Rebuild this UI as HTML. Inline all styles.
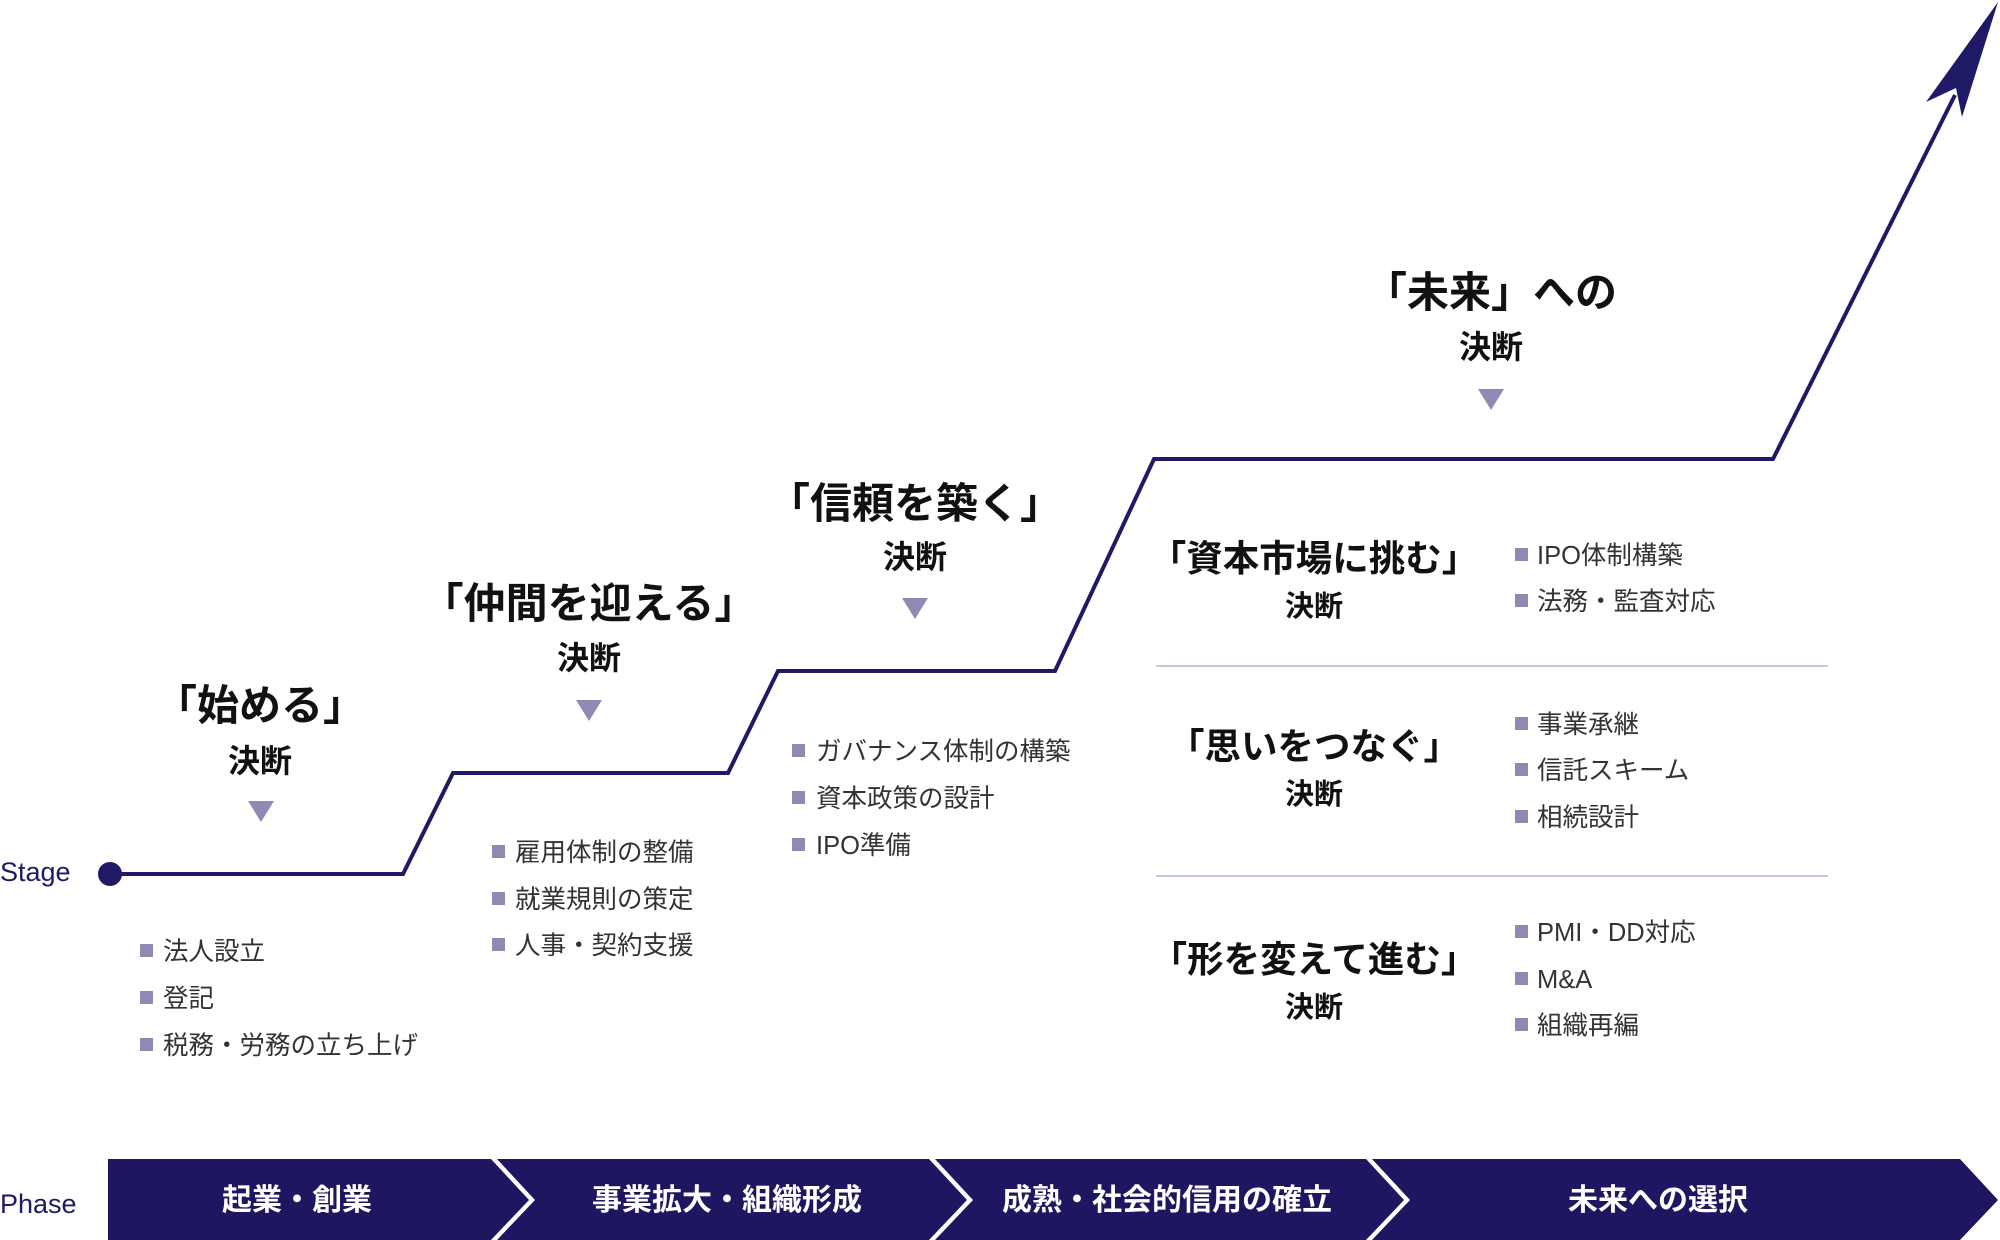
<!DOCTYPE html>
<html><head><meta charset="utf-8"><style>
html,body{margin:0;padding:0;background:#fff;}
svg{display:block;font-family:"Liberation Sans","Noto Sans CJK JP",sans-serif;}
.t{font-size:42px;font-weight:700;fill:#111;text-anchor:middle;}
.k{font-size:32px;font-weight:700;fill:#111;text-anchor:middle;}
.i{font-size:25.5px;fill:#333;}
.p{font-size:30px;font-weight:700;fill:#fff;text-anchor:middle;}
.l{font-size:27px;fill:#1e1a66;font-weight:500;}
</style></head><body>
<svg width="2000" height="1240" viewBox="0 0 2000 1240" xmlns="http://www.w3.org/2000/svg">
<polyline points="110,874 403,874 453,773 728,773 778,671 1055,671 1154,459 1773,459 1955,95" fill="none" stroke="#1e1a66" stroke-width="4"/>
<polygon points="1998,2 1926,102 1956,88 1962,117" fill="#1e1a66"/>
<circle cx="110" cy="874" r="12" fill="#1e1a66"/>
<text class="l" x="0" y="881">Stage</text>
<text class="l" x="0" y="1213">Phase</text>
<g fill="#8e8ab3">
<polygon points="248,801 274,801 261,822"/>
<polygon points="576,700 602,700 589,721"/>
<polygon points="902,598 928,598 915,619"/>
<polygon points="1478,389 1504,389 1491,410"/>
</g>
<text class="t" x="260" y="720">「始める」</text><text class="k" x="260" y="772">決断</text>
<text class="t" x="589" y="618">「仲間を迎える」</text><text class="k" x="589" y="669">決断</text>
<text class="t" x="915" y="518">「信頼を築く」</text><text class="k" x="915" y="568">決断</text>
<text class="t" x="1491" y="307">「未来」への</text><text class="k" x="1491" y="358">決断</text>
<text class="t" x="1314" y="571" style="font-size:36.5px">「資本市場に挑む」</text><text class="k" x="1314" y="616" style="font-size:29px">決断</text>
<text class="t" x="1314" y="759" style="font-size:36.5px">「思いをつなぐ」</text><text class="k" x="1314" y="804" style="font-size:29px">決断</text>
<text class="t" x="1314" y="972" style="font-size:36.5px">「形を変えて進む」</text><text class="k" x="1314" y="1017" style="font-size:29px">決断</text>
<g fill="#8e8ab3">
<rect x="140" y="944" width="13" height="13"/><rect x="140" y="991" width="13" height="13"/><rect x="140" y="1038" width="13" height="13"/>
<rect x="492" y="845" width="13" height="13"/><rect x="492" y="892" width="13" height="13"/><rect x="492" y="938" width="13" height="13"/>
<rect x="792" y="744" width="13" height="13"/><rect x="792" y="791" width="13" height="13"/><rect x="792" y="838" width="13" height="13"/>
<rect x="1515" y="548" width="13" height="13"/><rect x="1515" y="594" width="13" height="13"/>
<rect x="1515" y="717" width="13" height="13"/><rect x="1515" y="763" width="13" height="13"/><rect x="1515" y="810" width="13" height="13"/>
<rect x="1515" y="925" width="13" height="13"/><rect x="1515" y="972" width="13" height="13"/><rect x="1515" y="1018" width="13" height="13"/>
</g>
<g>
<text class="i" x="163" y="960">法人設立</text><text class="i" x="163" y="1007">登記</text><text class="i" x="163" y="1054">税務・労務の立ち上げ</text>
<text class="i" x="515" y="861">雇用体制の整備</text><text class="i" x="515" y="908">就業規則の策定</text><text class="i" x="515" y="954">人事・契約支援</text>
<text class="i" x="816" y="760">ガバナンス体制の構築</text><text class="i" x="816" y="807">資本政策の設計</text><text class="i" x="816" y="854">IPO準備</text>
<text class="i" x="1537" y="564">IPO体制構築</text><text class="i" x="1537" y="610">法務・監査対応</text>
<text class="i" x="1537" y="733">事業承継</text><text class="i" x="1537" y="779">信託スキーム</text><text class="i" x="1537" y="826">相続設計</text>
<text class="i" x="1537" y="941">PMI・DD対応</text><text class="i" x="1537" y="988">M&amp;A</text><text class="i" x="1537" y="1034">組織再編</text>
</g>
<line x1="1156" y1="666" x2="1828" y2="666" stroke="#c8c6dc" stroke-width="2"/>
<line x1="1156" y1="876" x2="1828" y2="876" stroke="#c8c6dc" stroke-width="2"/>
<g fill="#1e1660">
<polygon points="108,1159 491,1159 529,1200 491,1240 108,1240"/>
<polygon points="497,1159 929,1159 967,1200 929,1240 497,1240 535,1200"/>
<polygon points="935,1159 1366,1159 1404,1200 1366,1240 935,1240 973,1200"/>
<polygon points="1372,1159 1960,1159 1998,1200 1960,1240 1372,1240 1410,1200"/>
</g>
<text class="p" x="297" y="1210">起業・創業</text>
<text class="p" x="727" y="1210">事業拡大・組織形成</text>
<text class="p" x="1167" y="1210">成熟・社会的信用の確立</text>
<text class="p" x="1658" y="1210">未来への選択</text>
</svg>
</body></html>
